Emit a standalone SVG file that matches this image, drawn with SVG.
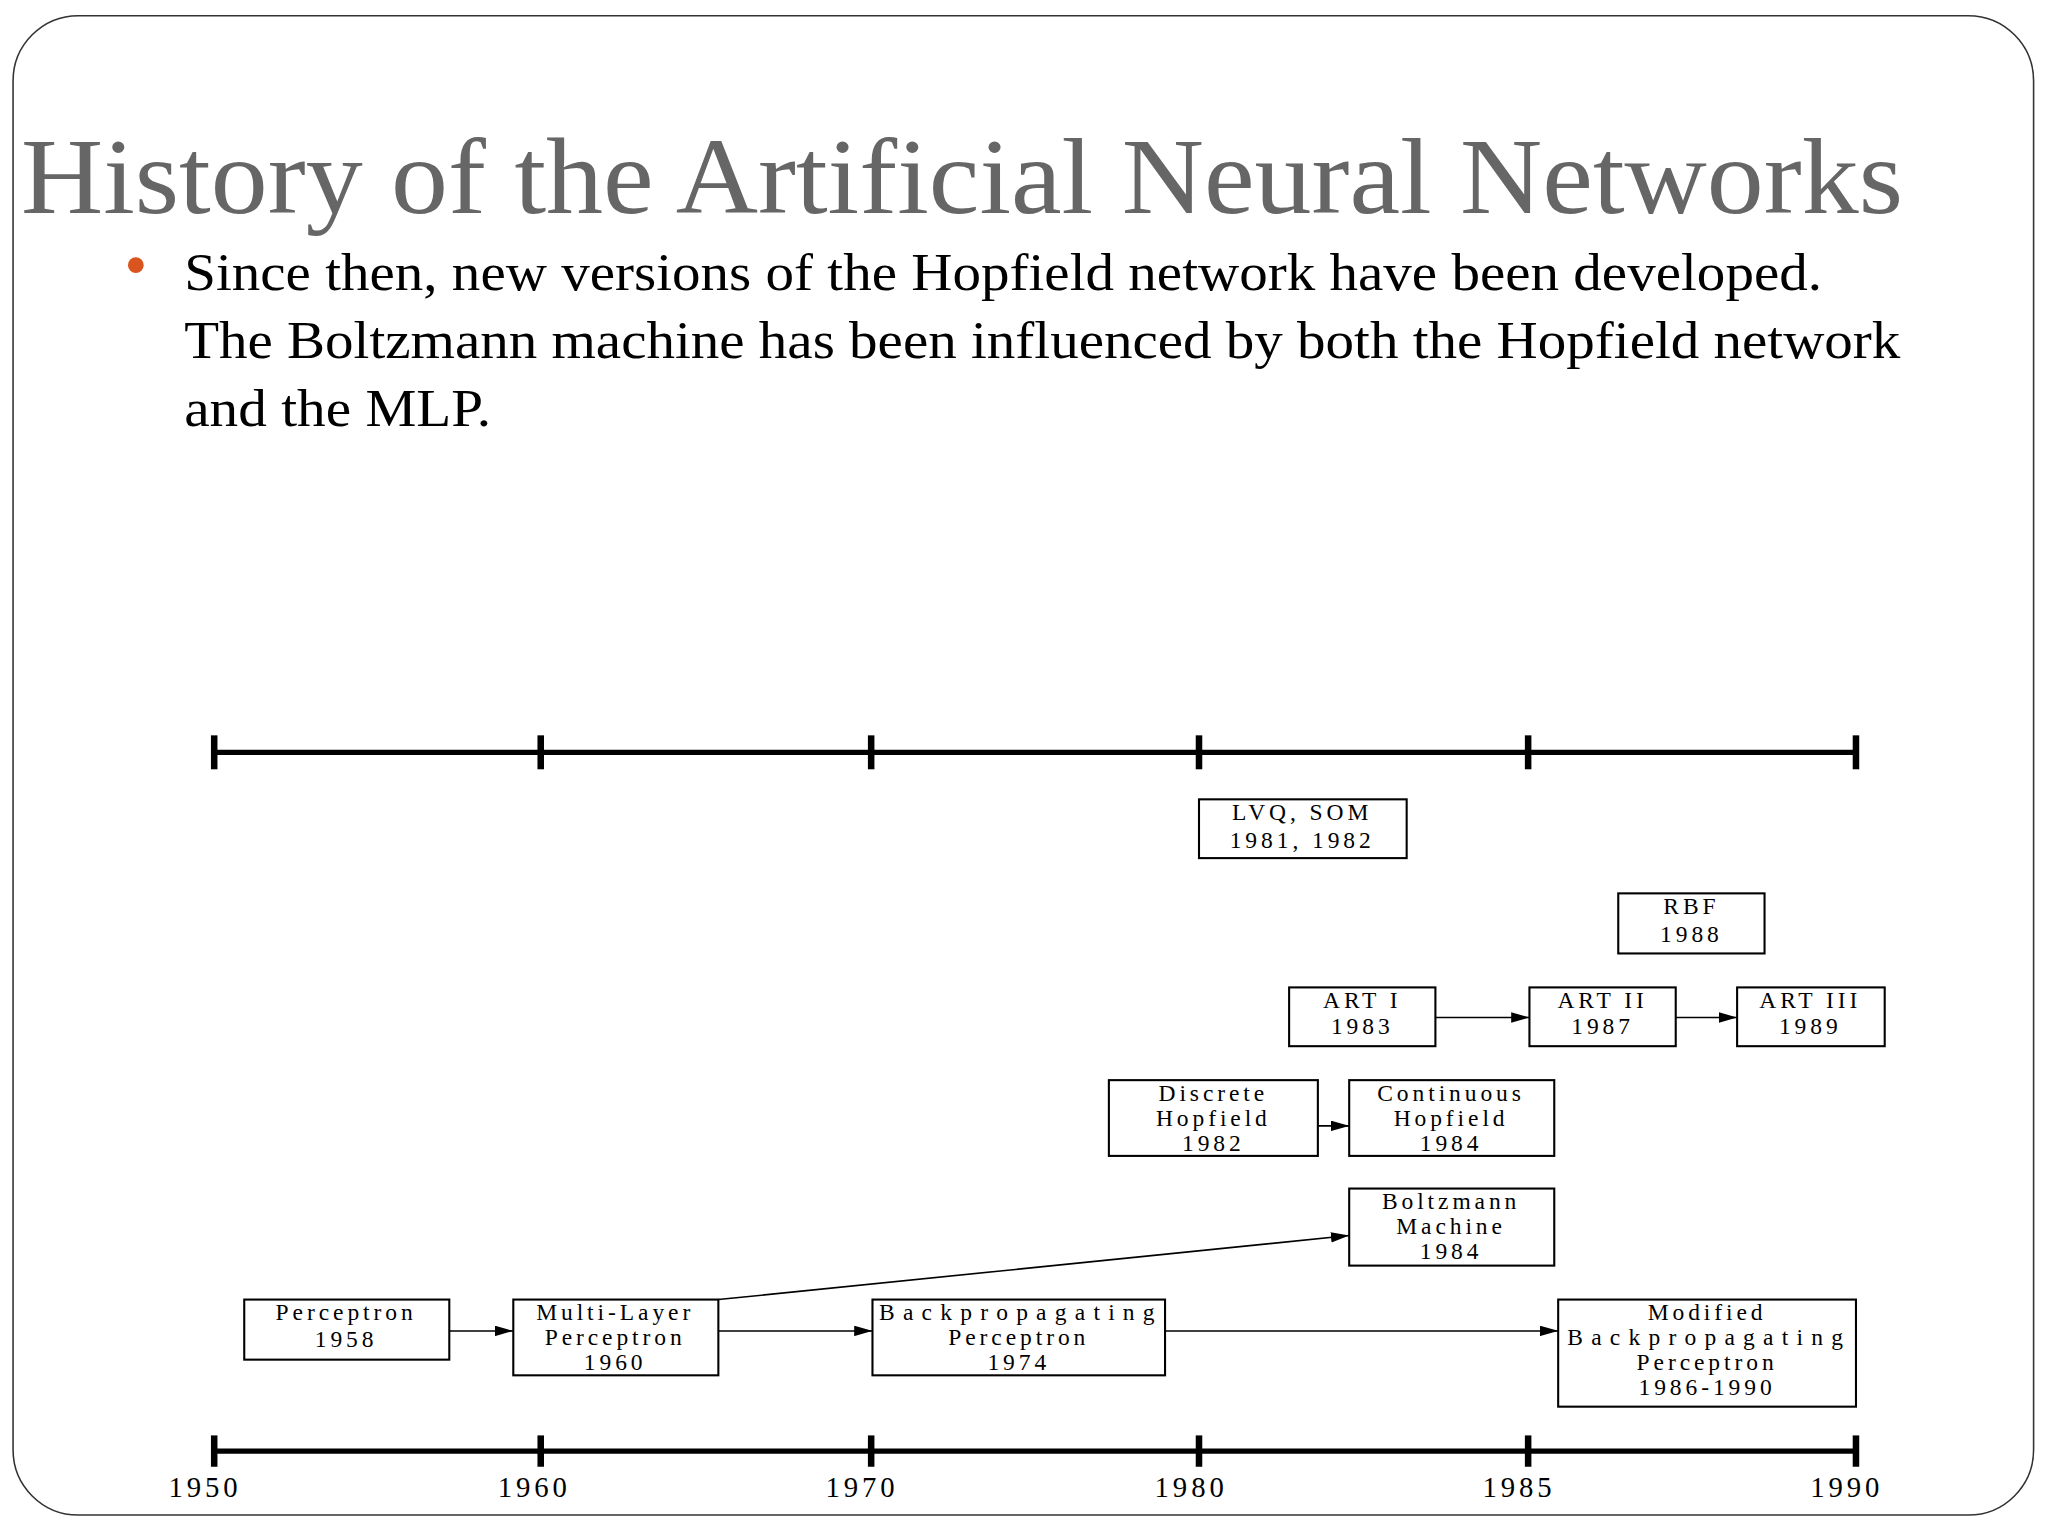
<svg xmlns="http://www.w3.org/2000/svg" width="2048" height="1536" viewBox="0 0 2048 1536">
<defs>
<style>
.bx{fill:#fff;stroke:#000;stroke-width:1.6}
.bt{font-family:"Liberation Serif",serif;font-size:18px;letter-spacing:3px;text-anchor:middle;fill:#000}
.ax{stroke:#000;stroke-width:4;fill:none}
.tk{stroke:#000;stroke-width:5}
.yr{font-family:"Liberation Serif",serif;font-size:22px;letter-spacing:3px;text-anchor:middle}
.c{stroke:#000;stroke-width:1.2;fill:none;marker-end:url(#ah)}
.body{font-family:"Liberation Serif",serif;font-size:40px;fill:#000}
</style>
<marker id="ah" markerWidth="14" markerHeight="8" refX="14" refY="4" orient="auto" markerUnits="userSpaceOnUse"><path d="M0,0L14,4L0,8Z" fill="#000"/></marker>
</defs>
<rect width="2048" height="1536" fill="#fff"/>
<g transform="scale(1.3061)">
<rect x="10" y="12" width="1547" height="1148" rx="50" fill="none" stroke="#333" stroke-width="1.2"/>
<text x="16" y="163" font-family="Liberation Serif,serif" font-size="82" fill="#666" textLength="1441" lengthAdjust="spacingAndGlyphs">History of the Artificial Neural Networks</text>
<circle cx="104" cy="203" r="6" fill="#d9541e"/>
<text class="body" x="141" y="222" textLength="1254" lengthAdjust="spacingAndGlyphs">Since then, new versions of the Hopfield network have been developed.</text>
<text class="body" x="141" y="274" textLength="1314" lengthAdjust="spacingAndGlyphs">The Boltzmann machine has been influenced by both the Hopfield network</text>
<text class="body" x="141" y="326" textLength="235" lengthAdjust="spacingAndGlyphs">and the MLP.</text>
<g id="axes">
<line class="ax" x1="164" y1="576" x2="1421" y2="576"/>
<line class="ax" x1="164" y1="1111" x2="1421" y2="1111"/>
<g class="tk">
<line x1="164" y1="563" x2="164" y2="589"/><line x1="414" y1="563" x2="414" y2="589"/><line x1="667" y1="563" x2="667" y2="589"/><line x1="918" y1="563" x2="918" y2="589"/><line x1="1170" y1="563" x2="1170" y2="589"/><line x1="1421" y1="563" x2="1421" y2="589"/>
<line x1="164" y1="1099" x2="164" y2="1123"/><line x1="414" y1="1099" x2="414" y2="1123"/><line x1="667" y1="1099" x2="667" y2="1123"/><line x1="918" y1="1099" x2="918" y2="1123"/><line x1="1170" y1="1099" x2="1170" y2="1123"/><line x1="1421" y1="1099" x2="1421" y2="1123"/>
</g>
<text class="yr" x="157" y="1146">1950</text><text class="yr" x="409" y="1146">1960</text><text class="yr" x="660" y="1146">1970</text><text class="yr" x="912" y="1146">1980</text><text class="yr" x="1163" y="1146">1985</text><text class="yr" x="1414" y="1146">1990</text>
</g>
<g id="connectors">
<line class="c" x1="1099" y1="779" x2="1171" y2="779"/>
<line class="c" x1="1283" y1="779" x2="1330" y2="779"/>
<line class="c" x1="1009" y1="862" x2="1033" y2="862"/>
<line class="c" x1="344" y1="1019" x2="393" y2="1019"/>
<line class="c" x1="550" y1="1019" x2="668" y2="1019"/>
<line class="c" x1="892" y1="1019" x2="1193" y2="1019"/>
<line class="c" x1="550" y1="995" x2="1033" y2="946"/>
</g>
<g id="lvq"><rect class="bx" x="918" y="612" width="159" height="45"/><text class="bt" x="997" y="628">LVQ, SOM</text><text class="bt" x="997" y="649">1981, 1982</text></g>
<g id="rbf"><rect class="bx" x="1239" y="684" width="112" height="46"/><text class="bt" x="1295" y="700">RBF</text><text class="bt" x="1295" y="721">1988</text></g>
<g id="art1"><rect class="bx" x="987" y="756" width="112" height="45"/><text class="bt" x="1043" y="772">ART I</text><text class="bt" x="1043" y="792">1983</text></g>
<g id="art2"><rect class="bx" x="1171" y="756" width="112" height="45"/><text class="bt" x="1227" y="772">ART II</text><text class="bt" x="1227" y="792">1987</text></g>
<g id="art3"><rect class="bx" x="1330" y="756" width="113" height="45"/><text class="bt" x="1386" y="772">ART III</text><text class="bt" x="1386" y="792">1989</text></g>
<g id="dhop"><rect class="bx" x="849" y="827" width="160" height="58"/><text class="bt" x="929" y="843">Discrete</text><text class="bt" x="929" y="862">Hopfield</text><text class="bt" x="929" y="881">1982</text></g>
<g id="chop"><rect class="bx" x="1033" y="827" width="157" height="58"/><text class="bt" x="1111" y="843">Continuous</text><text class="bt" x="1111" y="862">Hopfield</text><text class="bt" x="1111" y="881">1984</text></g>
<g id="boltz"><rect class="bx" x="1033" y="910" width="157" height="59"/><text class="bt" x="1111" y="926">Boltzmann</text><text class="bt" x="1111" y="945">Machine</text><text class="bt" x="1111" y="964">1984</text></g>
<g id="perc"><rect class="bx" x="187" y="995" width="157" height="46"/><text class="bt" x="265" y="1011">Perceptron</text><text class="bt" x="265" y="1031">1958</text></g>
<g id="mlp"><rect class="bx" x="393" y="995" width="157" height="58"/><text class="bt" x="471" y="1011">Multi-Layer</text><text class="bt" x="471" y="1030">Perceptron</text><text class="bt" x="471" y="1049">1960</text></g>
<g id="bp"><rect class="bx" x="668" y="995" width="224" height="58"/><text class="bt" x="780" y="1011" textLength="214" lengthAdjust="spacing">Backpropagating</text><text class="bt" x="780" y="1030">Perceptron</text><text class="bt" x="780" y="1049">1974</text></g>
<g id="mbp"><rect class="bx" x="1193" y="995" width="228" height="82"/><text class="bt" x="1307" y="1011">Modified</text><text class="bt" x="1307" y="1030" textLength="214" lengthAdjust="spacing">Backpropagating</text><text class="bt" x="1307" y="1049">Perceptron</text><text class="bt" x="1307" y="1068">1986-1990</text></g>
</g>
</svg>
